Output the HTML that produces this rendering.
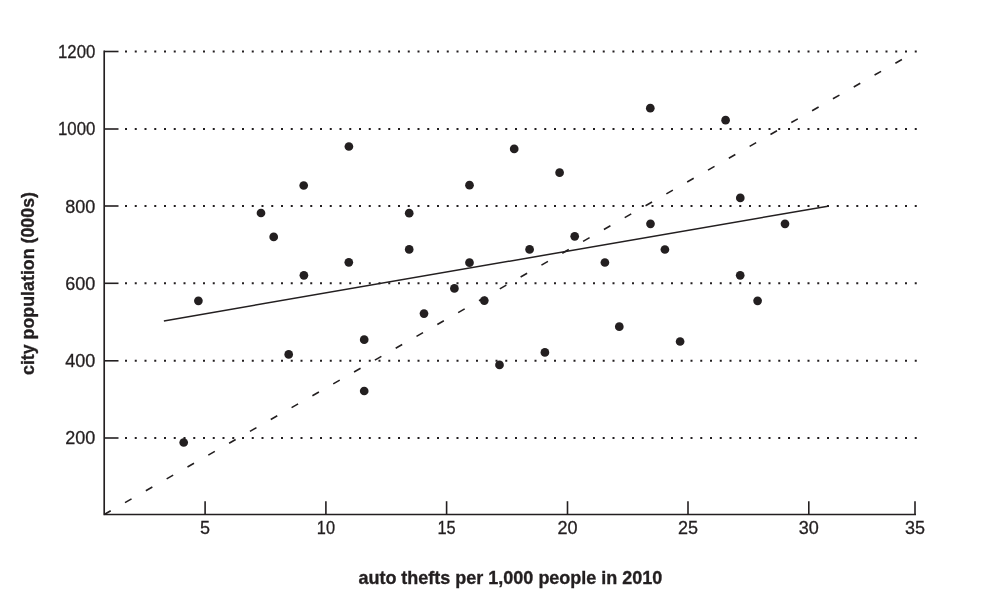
<!DOCTYPE html>
<html><head><meta charset="utf-8"><style>
html,body{margin:0;padding:0;background:#fff;width:987px;height:612px;overflow:hidden;position:relative;font-family:"Liberation Sans",sans-serif}
</style></head><body>
<svg width="987" height="612" viewBox="0 0 987 612" style="position:absolute;left:0;top:0;will-change:transform"><line x1="104.2" y1="51.5" x2="118.5" y2="51.5" stroke="#231f20" stroke-width="1.6"/><path d="M125.00 50.50h2v2h-2zM134.75 50.50h2v2h-2zM144.50 50.50h2v2h-2zM154.25 50.50h2v2h-2zM164.00 50.50h2v2h-2zM173.75 50.50h2v2h-2zM183.50 50.50h2v2h-2zM193.25 50.50h2v2h-2zM203.00 50.50h2v2h-2zM212.75 50.50h2v2h-2zM222.50 50.50h2v2h-2zM232.25 50.50h2v2h-2zM242.00 50.50h2v2h-2zM251.75 50.50h2v2h-2zM261.50 50.50h2v2h-2zM271.25 50.50h2v2h-2zM281.00 50.50h2v2h-2zM290.75 50.50h2v2h-2zM300.50 50.50h2v2h-2zM310.25 50.50h2v2h-2zM320.00 50.50h2v2h-2zM329.75 50.50h2v2h-2zM339.50 50.50h2v2h-2zM349.25 50.50h2v2h-2zM359.00 50.50h2v2h-2zM368.75 50.50h2v2h-2zM378.50 50.50h2v2h-2zM388.25 50.50h2v2h-2zM398.00 50.50h2v2h-2zM407.75 50.50h2v2h-2zM417.50 50.50h2v2h-2zM427.25 50.50h2v2h-2zM437.00 50.50h2v2h-2zM446.75 50.50h2v2h-2zM456.50 50.50h2v2h-2zM466.25 50.50h2v2h-2zM476.00 50.50h2v2h-2zM485.75 50.50h2v2h-2zM495.50 50.50h2v2h-2zM505.25 50.50h2v2h-2zM515.00 50.50h2v2h-2zM524.75 50.50h2v2h-2zM534.50 50.50h2v2h-2zM544.25 50.50h2v2h-2zM554.00 50.50h2v2h-2zM563.75 50.50h2v2h-2zM573.50 50.50h2v2h-2zM583.25 50.50h2v2h-2zM593.00 50.50h2v2h-2zM602.75 50.50h2v2h-2zM612.50 50.50h2v2h-2zM622.25 50.50h2v2h-2zM632.00 50.50h2v2h-2zM641.75 50.50h2v2h-2zM651.50 50.50h2v2h-2zM661.25 50.50h2v2h-2zM671.00 50.50h2v2h-2zM680.75 50.50h2v2h-2zM690.50 50.50h2v2h-2zM700.25 50.50h2v2h-2zM710.00 50.50h2v2h-2zM719.75 50.50h2v2h-2zM729.50 50.50h2v2h-2zM739.25 50.50h2v2h-2zM749.00 50.50h2v2h-2zM758.75 50.50h2v2h-2zM768.50 50.50h2v2h-2zM778.25 50.50h2v2h-2zM788.00 50.50h2v2h-2zM797.75 50.50h2v2h-2zM807.50 50.50h2v2h-2zM817.25 50.50h2v2h-2zM827.00 50.50h2v2h-2zM836.75 50.50h2v2h-2zM846.50 50.50h2v2h-2zM856.25 50.50h2v2h-2zM866.00 50.50h2v2h-2zM875.75 50.50h2v2h-2zM885.50 50.50h2v2h-2zM895.25 50.50h2v2h-2zM905.00 50.50h2v2h-2zM914.75 50.50h2v2h-2z" fill="#231f20"/><line x1="104.2" y1="129.0" x2="118.5" y2="129.0" stroke="#231f20" stroke-width="1.6"/><path d="M125.00 128.00h2v2h-2zM134.75 128.00h2v2h-2zM144.50 128.00h2v2h-2zM154.25 128.00h2v2h-2zM164.00 128.00h2v2h-2zM173.75 128.00h2v2h-2zM183.50 128.00h2v2h-2zM193.25 128.00h2v2h-2zM203.00 128.00h2v2h-2zM212.75 128.00h2v2h-2zM222.50 128.00h2v2h-2zM232.25 128.00h2v2h-2zM242.00 128.00h2v2h-2zM251.75 128.00h2v2h-2zM261.50 128.00h2v2h-2zM271.25 128.00h2v2h-2zM281.00 128.00h2v2h-2zM290.75 128.00h2v2h-2zM300.50 128.00h2v2h-2zM310.25 128.00h2v2h-2zM320.00 128.00h2v2h-2zM329.75 128.00h2v2h-2zM339.50 128.00h2v2h-2zM349.25 128.00h2v2h-2zM359.00 128.00h2v2h-2zM368.75 128.00h2v2h-2zM378.50 128.00h2v2h-2zM388.25 128.00h2v2h-2zM398.00 128.00h2v2h-2zM407.75 128.00h2v2h-2zM417.50 128.00h2v2h-2zM427.25 128.00h2v2h-2zM437.00 128.00h2v2h-2zM446.75 128.00h2v2h-2zM456.50 128.00h2v2h-2zM466.25 128.00h2v2h-2zM476.00 128.00h2v2h-2zM485.75 128.00h2v2h-2zM495.50 128.00h2v2h-2zM505.25 128.00h2v2h-2zM515.00 128.00h2v2h-2zM524.75 128.00h2v2h-2zM534.50 128.00h2v2h-2zM544.25 128.00h2v2h-2zM554.00 128.00h2v2h-2zM563.75 128.00h2v2h-2zM573.50 128.00h2v2h-2zM583.25 128.00h2v2h-2zM593.00 128.00h2v2h-2zM602.75 128.00h2v2h-2zM612.50 128.00h2v2h-2zM622.25 128.00h2v2h-2zM632.00 128.00h2v2h-2zM641.75 128.00h2v2h-2zM651.50 128.00h2v2h-2zM661.25 128.00h2v2h-2zM671.00 128.00h2v2h-2zM680.75 128.00h2v2h-2zM690.50 128.00h2v2h-2zM700.25 128.00h2v2h-2zM710.00 128.00h2v2h-2zM719.75 128.00h2v2h-2zM729.50 128.00h2v2h-2zM739.25 128.00h2v2h-2zM749.00 128.00h2v2h-2zM758.75 128.00h2v2h-2zM768.50 128.00h2v2h-2zM778.25 128.00h2v2h-2zM788.00 128.00h2v2h-2zM797.75 128.00h2v2h-2zM807.50 128.00h2v2h-2zM817.25 128.00h2v2h-2zM827.00 128.00h2v2h-2zM836.75 128.00h2v2h-2zM846.50 128.00h2v2h-2zM856.25 128.00h2v2h-2zM866.00 128.00h2v2h-2zM875.75 128.00h2v2h-2zM885.50 128.00h2v2h-2zM895.25 128.00h2v2h-2zM905.00 128.00h2v2h-2zM914.75 128.00h2v2h-2z" fill="#231f20"/><line x1="104.2" y1="206.0" x2="118.5" y2="206.0" stroke="#231f20" stroke-width="1.6"/><path d="M125.00 205.00h2v2h-2zM134.75 205.00h2v2h-2zM144.50 205.00h2v2h-2zM154.25 205.00h2v2h-2zM164.00 205.00h2v2h-2zM173.75 205.00h2v2h-2zM183.50 205.00h2v2h-2zM193.25 205.00h2v2h-2zM203.00 205.00h2v2h-2zM212.75 205.00h2v2h-2zM222.50 205.00h2v2h-2zM232.25 205.00h2v2h-2zM242.00 205.00h2v2h-2zM251.75 205.00h2v2h-2zM261.50 205.00h2v2h-2zM271.25 205.00h2v2h-2zM281.00 205.00h2v2h-2zM290.75 205.00h2v2h-2zM300.50 205.00h2v2h-2zM310.25 205.00h2v2h-2zM320.00 205.00h2v2h-2zM329.75 205.00h2v2h-2zM339.50 205.00h2v2h-2zM349.25 205.00h2v2h-2zM359.00 205.00h2v2h-2zM368.75 205.00h2v2h-2zM378.50 205.00h2v2h-2zM388.25 205.00h2v2h-2zM398.00 205.00h2v2h-2zM407.75 205.00h2v2h-2zM417.50 205.00h2v2h-2zM427.25 205.00h2v2h-2zM437.00 205.00h2v2h-2zM446.75 205.00h2v2h-2zM456.50 205.00h2v2h-2zM466.25 205.00h2v2h-2zM476.00 205.00h2v2h-2zM485.75 205.00h2v2h-2zM495.50 205.00h2v2h-2zM505.25 205.00h2v2h-2zM515.00 205.00h2v2h-2zM524.75 205.00h2v2h-2zM534.50 205.00h2v2h-2zM544.25 205.00h2v2h-2zM554.00 205.00h2v2h-2zM563.75 205.00h2v2h-2zM573.50 205.00h2v2h-2zM583.25 205.00h2v2h-2zM593.00 205.00h2v2h-2zM602.75 205.00h2v2h-2zM612.50 205.00h2v2h-2zM622.25 205.00h2v2h-2zM632.00 205.00h2v2h-2zM641.75 205.00h2v2h-2zM651.50 205.00h2v2h-2zM661.25 205.00h2v2h-2zM671.00 205.00h2v2h-2zM680.75 205.00h2v2h-2zM690.50 205.00h2v2h-2zM700.25 205.00h2v2h-2zM710.00 205.00h2v2h-2zM719.75 205.00h2v2h-2zM729.50 205.00h2v2h-2zM739.25 205.00h2v2h-2zM749.00 205.00h2v2h-2zM758.75 205.00h2v2h-2zM768.50 205.00h2v2h-2zM778.25 205.00h2v2h-2zM788.00 205.00h2v2h-2zM797.75 205.00h2v2h-2zM807.50 205.00h2v2h-2zM817.25 205.00h2v2h-2zM827.00 205.00h2v2h-2zM836.75 205.00h2v2h-2zM846.50 205.00h2v2h-2zM856.25 205.00h2v2h-2zM866.00 205.00h2v2h-2zM875.75 205.00h2v2h-2zM885.50 205.00h2v2h-2zM895.25 205.00h2v2h-2zM905.00 205.00h2v2h-2zM914.75 205.00h2v2h-2z" fill="#231f20"/><line x1="104.2" y1="283.3" x2="118.5" y2="283.3" stroke="#231f20" stroke-width="1.6"/><path d="M125.00 282.30h2v2h-2zM134.75 282.30h2v2h-2zM144.50 282.30h2v2h-2zM154.25 282.30h2v2h-2zM164.00 282.30h2v2h-2zM173.75 282.30h2v2h-2zM183.50 282.30h2v2h-2zM193.25 282.30h2v2h-2zM203.00 282.30h2v2h-2zM212.75 282.30h2v2h-2zM222.50 282.30h2v2h-2zM232.25 282.30h2v2h-2zM242.00 282.30h2v2h-2zM251.75 282.30h2v2h-2zM261.50 282.30h2v2h-2zM271.25 282.30h2v2h-2zM281.00 282.30h2v2h-2zM290.75 282.30h2v2h-2zM300.50 282.30h2v2h-2zM310.25 282.30h2v2h-2zM320.00 282.30h2v2h-2zM329.75 282.30h2v2h-2zM339.50 282.30h2v2h-2zM349.25 282.30h2v2h-2zM359.00 282.30h2v2h-2zM368.75 282.30h2v2h-2zM378.50 282.30h2v2h-2zM388.25 282.30h2v2h-2zM398.00 282.30h2v2h-2zM407.75 282.30h2v2h-2zM417.50 282.30h2v2h-2zM427.25 282.30h2v2h-2zM437.00 282.30h2v2h-2zM446.75 282.30h2v2h-2zM456.50 282.30h2v2h-2zM466.25 282.30h2v2h-2zM476.00 282.30h2v2h-2zM485.75 282.30h2v2h-2zM495.50 282.30h2v2h-2zM505.25 282.30h2v2h-2zM515.00 282.30h2v2h-2zM524.75 282.30h2v2h-2zM534.50 282.30h2v2h-2zM544.25 282.30h2v2h-2zM554.00 282.30h2v2h-2zM563.75 282.30h2v2h-2zM573.50 282.30h2v2h-2zM583.25 282.30h2v2h-2zM593.00 282.30h2v2h-2zM602.75 282.30h2v2h-2zM612.50 282.30h2v2h-2zM622.25 282.30h2v2h-2zM632.00 282.30h2v2h-2zM641.75 282.30h2v2h-2zM651.50 282.30h2v2h-2zM661.25 282.30h2v2h-2zM671.00 282.30h2v2h-2zM680.75 282.30h2v2h-2zM690.50 282.30h2v2h-2zM700.25 282.30h2v2h-2zM710.00 282.30h2v2h-2zM719.75 282.30h2v2h-2zM729.50 282.30h2v2h-2zM739.25 282.30h2v2h-2zM749.00 282.30h2v2h-2zM758.75 282.30h2v2h-2zM768.50 282.30h2v2h-2zM778.25 282.30h2v2h-2zM788.00 282.30h2v2h-2zM797.75 282.30h2v2h-2zM807.50 282.30h2v2h-2zM817.25 282.30h2v2h-2zM827.00 282.30h2v2h-2zM836.75 282.30h2v2h-2zM846.50 282.30h2v2h-2zM856.25 282.30h2v2h-2zM866.00 282.30h2v2h-2zM875.75 282.30h2v2h-2zM885.50 282.30h2v2h-2zM895.25 282.30h2v2h-2zM905.00 282.30h2v2h-2zM914.75 282.30h2v2h-2z" fill="#231f20"/><line x1="104.2" y1="360.8" x2="118.5" y2="360.8" stroke="#231f20" stroke-width="1.6"/><path d="M125.00 359.80h2v2h-2zM134.75 359.80h2v2h-2zM144.50 359.80h2v2h-2zM154.25 359.80h2v2h-2zM164.00 359.80h2v2h-2zM173.75 359.80h2v2h-2zM183.50 359.80h2v2h-2zM193.25 359.80h2v2h-2zM203.00 359.80h2v2h-2zM212.75 359.80h2v2h-2zM222.50 359.80h2v2h-2zM232.25 359.80h2v2h-2zM242.00 359.80h2v2h-2zM251.75 359.80h2v2h-2zM261.50 359.80h2v2h-2zM271.25 359.80h2v2h-2zM281.00 359.80h2v2h-2zM290.75 359.80h2v2h-2zM300.50 359.80h2v2h-2zM310.25 359.80h2v2h-2zM320.00 359.80h2v2h-2zM329.75 359.80h2v2h-2zM339.50 359.80h2v2h-2zM349.25 359.80h2v2h-2zM359.00 359.80h2v2h-2zM368.75 359.80h2v2h-2zM378.50 359.80h2v2h-2zM388.25 359.80h2v2h-2zM398.00 359.80h2v2h-2zM407.75 359.80h2v2h-2zM417.50 359.80h2v2h-2zM427.25 359.80h2v2h-2zM437.00 359.80h2v2h-2zM446.75 359.80h2v2h-2zM456.50 359.80h2v2h-2zM466.25 359.80h2v2h-2zM476.00 359.80h2v2h-2zM485.75 359.80h2v2h-2zM495.50 359.80h2v2h-2zM505.25 359.80h2v2h-2zM515.00 359.80h2v2h-2zM524.75 359.80h2v2h-2zM534.50 359.80h2v2h-2zM544.25 359.80h2v2h-2zM554.00 359.80h2v2h-2zM563.75 359.80h2v2h-2zM573.50 359.80h2v2h-2zM583.25 359.80h2v2h-2zM593.00 359.80h2v2h-2zM602.75 359.80h2v2h-2zM612.50 359.80h2v2h-2zM622.25 359.80h2v2h-2zM632.00 359.80h2v2h-2zM641.75 359.80h2v2h-2zM651.50 359.80h2v2h-2zM661.25 359.80h2v2h-2zM671.00 359.80h2v2h-2zM680.75 359.80h2v2h-2zM690.50 359.80h2v2h-2zM700.25 359.80h2v2h-2zM710.00 359.80h2v2h-2zM719.75 359.80h2v2h-2zM729.50 359.80h2v2h-2zM739.25 359.80h2v2h-2zM749.00 359.80h2v2h-2zM758.75 359.80h2v2h-2zM768.50 359.80h2v2h-2zM778.25 359.80h2v2h-2zM788.00 359.80h2v2h-2zM797.75 359.80h2v2h-2zM807.50 359.80h2v2h-2zM817.25 359.80h2v2h-2zM827.00 359.80h2v2h-2zM836.75 359.80h2v2h-2zM846.50 359.80h2v2h-2zM856.25 359.80h2v2h-2zM866.00 359.80h2v2h-2zM875.75 359.80h2v2h-2zM885.50 359.80h2v2h-2zM895.25 359.80h2v2h-2zM905.00 359.80h2v2h-2zM914.75 359.80h2v2h-2z" fill="#231f20"/><line x1="104.2" y1="438.0" x2="118.5" y2="438.0" stroke="#231f20" stroke-width="1.6"/><path d="M125.00 437.00h2v2h-2zM134.75 437.00h2v2h-2zM144.50 437.00h2v2h-2zM154.25 437.00h2v2h-2zM164.00 437.00h2v2h-2zM173.75 437.00h2v2h-2zM183.50 437.00h2v2h-2zM193.25 437.00h2v2h-2zM203.00 437.00h2v2h-2zM212.75 437.00h2v2h-2zM222.50 437.00h2v2h-2zM232.25 437.00h2v2h-2zM242.00 437.00h2v2h-2zM251.75 437.00h2v2h-2zM261.50 437.00h2v2h-2zM271.25 437.00h2v2h-2zM281.00 437.00h2v2h-2zM290.75 437.00h2v2h-2zM300.50 437.00h2v2h-2zM310.25 437.00h2v2h-2zM320.00 437.00h2v2h-2zM329.75 437.00h2v2h-2zM339.50 437.00h2v2h-2zM349.25 437.00h2v2h-2zM359.00 437.00h2v2h-2zM368.75 437.00h2v2h-2zM378.50 437.00h2v2h-2zM388.25 437.00h2v2h-2zM398.00 437.00h2v2h-2zM407.75 437.00h2v2h-2zM417.50 437.00h2v2h-2zM427.25 437.00h2v2h-2zM437.00 437.00h2v2h-2zM446.75 437.00h2v2h-2zM456.50 437.00h2v2h-2zM466.25 437.00h2v2h-2zM476.00 437.00h2v2h-2zM485.75 437.00h2v2h-2zM495.50 437.00h2v2h-2zM505.25 437.00h2v2h-2zM515.00 437.00h2v2h-2zM524.75 437.00h2v2h-2zM534.50 437.00h2v2h-2zM544.25 437.00h2v2h-2zM554.00 437.00h2v2h-2zM563.75 437.00h2v2h-2zM573.50 437.00h2v2h-2zM583.25 437.00h2v2h-2zM593.00 437.00h2v2h-2zM602.75 437.00h2v2h-2zM612.50 437.00h2v2h-2zM622.25 437.00h2v2h-2zM632.00 437.00h2v2h-2zM641.75 437.00h2v2h-2zM651.50 437.00h2v2h-2zM661.25 437.00h2v2h-2zM671.00 437.00h2v2h-2zM680.75 437.00h2v2h-2zM690.50 437.00h2v2h-2zM700.25 437.00h2v2h-2zM710.00 437.00h2v2h-2zM719.75 437.00h2v2h-2zM729.50 437.00h2v2h-2zM739.25 437.00h2v2h-2zM749.00 437.00h2v2h-2zM758.75 437.00h2v2h-2zM768.50 437.00h2v2h-2zM778.25 437.00h2v2h-2zM788.00 437.00h2v2h-2zM797.75 437.00h2v2h-2zM807.50 437.00h2v2h-2zM817.25 437.00h2v2h-2zM827.00 437.00h2v2h-2zM836.75 437.00h2v2h-2zM846.50 437.00h2v2h-2zM856.25 437.00h2v2h-2zM866.00 437.00h2v2h-2zM875.75 437.00h2v2h-2zM885.50 437.00h2v2h-2zM895.25 437.00h2v2h-2zM905.00 437.00h2v2h-2zM914.75 437.00h2v2h-2z" fill="#231f20"/><path d="M104.2 50.6 V514.5 H916" fill="none" stroke="#231f20" stroke-width="1.65"/><line x1="205.1" y1="501.2" x2="205.1" y2="514.5" stroke="#231f20" stroke-width="1.6"/><line x1="325.9" y1="501.2" x2="325.9" y2="514.5" stroke="#231f20" stroke-width="1.6"/><line x1="446.6" y1="501.2" x2="446.6" y2="514.5" stroke="#231f20" stroke-width="1.6"/><line x1="567.5" y1="501.2" x2="567.5" y2="514.5" stroke="#231f20" stroke-width="1.6"/><line x1="688.0" y1="501.2" x2="688.0" y2="514.5" stroke="#231f20" stroke-width="1.6"/><line x1="808.8" y1="501.2" x2="808.8" y2="514.5" stroke="#231f20" stroke-width="1.6"/><line x1="915.0" y1="501.2" x2="915.0" y2="514.5" stroke="#231f20" stroke-width="1.6"/><line x1="104.2" y1="514.5" x2="915" y2="52" stroke="#231f20" stroke-width="1.6" stroke-dasharray="7.5 16.47"/><line x1="163.9" y1="320.9" x2="827.8" y2="206.2" stroke="#231f20" stroke-width="1.5"/><circle cx="198.4" cy="300.8" r="4.35" fill="#231f20"/><circle cx="183.7" cy="442.5" r="4.35" fill="#231f20"/><circle cx="261" cy="213" r="4.35" fill="#231f20"/><circle cx="273.7" cy="236.9" r="4.35" fill="#231f20"/><circle cx="303.7" cy="185.5" r="4.35" fill="#231f20"/><circle cx="303.9" cy="275.3" r="4.35" fill="#231f20"/><circle cx="288.7" cy="354.4" r="4.35" fill="#231f20"/><circle cx="348.9" cy="146.5" r="4.35" fill="#231f20"/><circle cx="348.8" cy="262.3" r="4.35" fill="#231f20"/><circle cx="364.2" cy="339.7" r="4.35" fill="#231f20"/><circle cx="364.2" cy="391" r="4.35" fill="#231f20"/><circle cx="409.2" cy="213.2" r="4.35" fill="#231f20"/><circle cx="409.2" cy="249.4" r="4.35" fill="#231f20"/><circle cx="424" cy="313.6" r="4.35" fill="#231f20"/><circle cx="454.4" cy="288.4" r="4.35" fill="#231f20"/><circle cx="469.5" cy="185.2" r="4.35" fill="#231f20"/><circle cx="469.5" cy="262.7" r="4.35" fill="#231f20"/><circle cx="484.3" cy="300.6" r="4.35" fill="#231f20"/><circle cx="499.5" cy="364.9" r="4.35" fill="#231f20"/><circle cx="514.2" cy="148.9" r="4.35" fill="#231f20"/><circle cx="529.6" cy="249.4" r="4.35" fill="#231f20"/><circle cx="544.9" cy="352.4" r="4.35" fill="#231f20"/><circle cx="559.6" cy="172.7" r="4.35" fill="#231f20"/><circle cx="574.7" cy="236.3" r="4.35" fill="#231f20"/><circle cx="604.9" cy="262.5" r="4.35" fill="#231f20"/><circle cx="619.3" cy="326.7" r="4.35" fill="#231f20"/><circle cx="650.3" cy="108.2" r="4.35" fill="#231f20"/><circle cx="650.5" cy="223.8" r="4.35" fill="#231f20"/><circle cx="664.9" cy="249.5" r="4.35" fill="#231f20"/><circle cx="680.1" cy="341.5" r="4.35" fill="#231f20"/><circle cx="725.6" cy="120.2" r="4.35" fill="#231f20"/><circle cx="740.3" cy="197.9" r="4.35" fill="#231f20"/><circle cx="740.2" cy="275.3" r="4.35" fill="#231f20"/><circle cx="757.6" cy="300.8" r="4.35" fill="#231f20"/><circle cx="785" cy="223.8" r="4.35" fill="#231f20"/><text x="95.3" y="57.9" text-anchor="end" font-family="Liberation Sans" font-size="18" fill="#231f20" stroke="#231f20" stroke-width="0.3" textLength="37.3" lengthAdjust="spacingAndGlyphs">1200</text><text x="95.3" y="135.0" text-anchor="end" font-family="Liberation Sans" font-size="18" fill="#231f20" stroke="#231f20" stroke-width="0.3" textLength="37.3" lengthAdjust="spacingAndGlyphs">1000</text><text x="95.3" y="212.6" text-anchor="end" font-family="Liberation Sans" font-size="18" fill="#231f20" stroke="#231f20" stroke-width="0.3">800</text><text x="95.3" y="289.79999999999995" text-anchor="end" font-family="Liberation Sans" font-size="18" fill="#231f20" stroke="#231f20" stroke-width="0.3">600</text><text x="95.3" y="366.79999999999995" text-anchor="end" font-family="Liberation Sans" font-size="18" fill="#231f20" stroke="#231f20" stroke-width="0.3">400</text><text x="95.3" y="444.2" text-anchor="end" font-family="Liberation Sans" font-size="18" fill="#231f20" stroke="#231f20" stroke-width="0.3">200</text><text x="205.1" y="534" text-anchor="middle" font-family="Liberation Sans" font-size="18" fill="#231f20" stroke="#231f20" stroke-width="0.3">5</text><text x="325.9" y="534" text-anchor="middle" font-family="Liberation Sans" font-size="18" fill="#231f20" stroke="#231f20" stroke-width="0.3" textLength="18.2" lengthAdjust="spacingAndGlyphs">10</text><text x="446.6" y="534" text-anchor="middle" font-family="Liberation Sans" font-size="18" fill="#231f20" stroke="#231f20" stroke-width="0.3" textLength="18.2" lengthAdjust="spacingAndGlyphs">15</text><text x="567.5" y="534" text-anchor="middle" font-family="Liberation Sans" font-size="18" fill="#231f20" stroke="#231f20" stroke-width="0.3">20</text><text x="688.0" y="534" text-anchor="middle" font-family="Liberation Sans" font-size="18" fill="#231f20" stroke="#231f20" stroke-width="0.3">25</text><text x="808.8" y="534" text-anchor="middle" font-family="Liberation Sans" font-size="18" fill="#231f20" stroke="#231f20" stroke-width="0.3">30</text><text x="915.0" y="534" text-anchor="middle" font-family="Liberation Sans" font-size="18" fill="#231f20" stroke="#231f20" stroke-width="0.3">35</text><text x="358.4" y="583.6" font-family="Liberation Sans" font-weight="bold" font-size="18.5" fill="#231f20" stroke="#231f20" stroke-width="0.35" textLength="304" lengthAdjust="spacingAndGlyphs">auto thefts per 1,000 people in 2010</text><text transform="translate(34.3,375) rotate(-90)" x="0" y="0" font-family="Liberation Sans" font-weight="bold" font-size="18.5" fill="#231f20" stroke="#231f20" stroke-width="0.35" textLength="183" lengthAdjust="spacingAndGlyphs">city population (000s)</text></svg>
</body></html>
